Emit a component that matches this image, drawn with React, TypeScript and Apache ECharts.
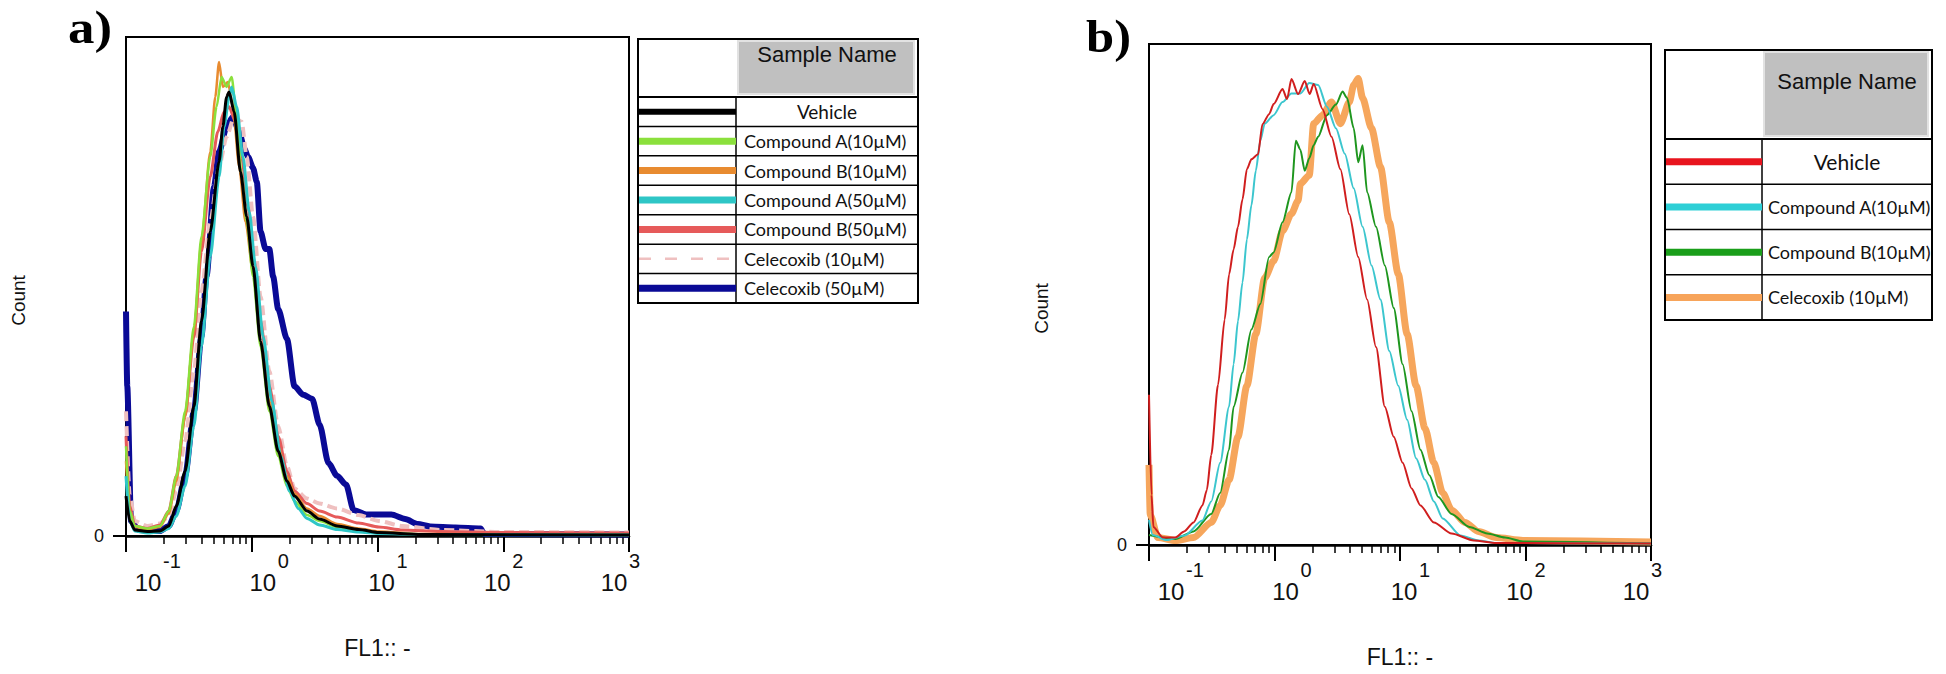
import React, { useEffect, useRef } from "react";
import * as echarts from "echarts";

// x values are log10(FL1) positions, y values are Count as % of the panel's full height.
// ---------- Panel a ----------
const aVehicle = [[-1.0, 8], [-0.97, 3], [-0.93, 1.2], [-0.83, 0.9], [-0.73, 1.0], [-0.66, 2], [-0.6, 6], [-0.53, 13], [-0.46, 26], [-0.4, 43], [-0.33, 61], [-0.26, 75], [-0.23, 82], [-0.2, 88], [-0.18, 89], [-0.14, 85], [-0.09, 73], [-0.04, 64], [0.01, 54], [0.07, 39], [0.14, 26], [0.21, 17], [0.28, 11], [0.34, 8], [0.44, 5], [0.54, 3.4], [0.68, 2], [0.85, 1.3], [1.01, 0.7], [1.35, 0.3], [3.0, 0.2]];
const aCompA10 = [[-1.0, 18], [-0.97, 5], [-0.93, 2], [-0.83, 1.5], [-0.73, 2.0], [-0.66, 5], [-0.6, 12], [-0.53, 25], [-0.46, 42], [-0.4, 60], [-0.33, 76], [-0.28, 86], [-0.24, 92], [-0.2, 90], [-0.16, 92], [-0.12, 84], [-0.08, 72], [-0.04, 63], [0.01, 52], [0.07, 38], [0.14, 25], [0.21, 16], [0.28, 10], [0.34, 7], [0.44, 4.2], [0.54, 3], [0.68, 1.8], [0.85, 1.1], [1.01, 0.6], [1.35, 0.3], [3.0, 0.2]];
const aCompB10 = [[-1.0, 15], [-0.97, 4], [-0.93, 1.8], [-0.83, 1.3], [-0.73, 1.8], [-0.66, 4.5], [-0.6, 11], [-0.53, 24], [-0.46, 41], [-0.4, 59], [-0.33, 77], [-0.29, 88], [-0.26, 95], [-0.23, 90], [-0.19, 91], [-0.15, 86], [-0.1, 74], [-0.05, 63], [0.01, 53], [0.07, 39], [0.14, 27], [0.21, 18], [0.28, 12], [0.34, 8.5], [0.44, 5.5], [0.54, 4], [0.68, 2.4], [0.85, 1.5], [1.01, 0.9], [1.35, 0.4], [3.0, 0.2]];
const aCompA50 = [[-1.0, 12], [-0.97, 3], [-0.93, 1], [-0.83, 0.6], [-0.73, 0.8], [-0.66, 1.5], [-0.6, 4], [-0.53, 10], [-0.46, 22], [-0.4, 38], [-0.33, 56], [-0.26, 72], [-0.22, 82], [-0.18, 88], [-0.16, 90], [-0.12, 86], [-0.07, 76], [-0.02, 65], [0.03, 54], [0.09, 40], [0.16, 27], [0.23, 16], [0.3, 9], [0.37, 5.5], [0.44, 3.5], [0.54, 2.2], [0.68, 1.3], [0.85, 0.8], [1.01, 0.5], [1.35, 0.3], [3.0, 0.2]];
const aCompB50 = [[-1.0, 20], [-0.97, 6], [-0.93, 2], [-0.83, 1.5], [-0.73, 2.2], [-0.66, 5], [-0.6, 12], [-0.53, 24], [-0.46, 40], [-0.4, 57], [-0.33, 72], [-0.27, 81], [-0.22, 85], [-0.18, 86], [-0.13, 83], [-0.08, 76], [-0.03, 66], [0.02, 55], [0.07, 43], [0.14, 30], [0.21, 20], [0.28, 13], [0.34, 9], [0.44, 6.5], [0.54, 5], [0.68, 3.8], [0.85, 2.6], [1.01, 1.8], [1.2, 1.2], [1.5, 0.9], [2.0, 0.7], [3.0, 0.6]];
const aCele10 = [[-1.0, 25], [-0.97, 8], [-0.93, 3], [-0.83, 2], [-0.73, 2.5], [-0.66, 4], [-0.6, 9], [-0.53, 19], [-0.46, 33], [-0.4, 49], [-0.33, 63], [-0.26, 74], [-0.2, 80], [-0.14, 84], [-0.08, 83], [-0.04, 76], [0.01, 64], [0.07, 48], [0.14, 33], [0.21, 22], [0.28, 14], [0.34, 9.5], [0.44, 7.5], [0.54, 6.5], [0.68, 5.5], [0.85, 4.2], [1.01, 3], [1.2, 2], [1.5, 1.2], [2.0, 0.8], [3.0, 0.7]];
const aCele50 = [[-1.0, 45], [-0.99, 30], [-0.96, 3], [-0.9, 1.2], [-0.73, 1.0], [-0.66, 2], [-0.6, 5], [-0.53, 12], [-0.46, 25], [-0.4, 40], [-0.36, 52], [-0.3, 70], [-0.26, 77], [-0.2, 82], [-0.15, 84], [-0.1, 81], [-0.06, 77.7], [-0.03, 76], [0.01, 73.8], [0.04, 71], [0.07, 61], [0.11, 57.5], [0.14, 57.5], [0.17, 52], [0.21, 45.5], [0.28, 39.5], [0.34, 30], [0.41, 28.3], [0.48, 27.5], [0.54, 22.3], [0.61, 14.6], [0.68, 12], [0.75, 10.3], [0.81, 5.2], [0.91, 4.3], [1.01, 4.3], [1.11, 4.3], [1.22, 3.4], [1.32, 2.4], [1.42, 1.9], [1.62, 1.7], [1.82, 1.5], [1.85, 0.4], [3.0, 0.3]];

// ---------- Panel b ----------
const bVehicle = [[-1.0, 30], [-0.98, 10], [-0.965, 3.6], [-0.89, 1.5], [-0.79, 1.5], [-0.72, 2.7], [-0.645, 4.5], [-0.574, 7.9], [-0.539, 11], [-0.504, 18], [-0.45, 32], [-0.397, 45], [-0.362, 54], [-0.326, 59], [-0.291, 63.5], [-0.255, 69], [-0.22, 75], [-0.184, 77], [-0.131, 78], [-0.096, 84], [-0.043, 86], [-0.007, 88], [0.064, 91], [0.1, 89], [0.135, 93], [0.188, 90], [0.241, 92.6], [0.28, 90], [0.312, 92], [0.383, 87], [0.454, 81.5], [0.525, 75], [0.596, 66], [0.667, 57.5], [0.738, 49], [0.809, 39.5], [0.879, 27.6], [0.95, 21.6], [1.021, 16.4], [1.092, 11.3], [1.163, 7.9], [1.27, 4.5], [1.411, 2.3], [1.589, 0.9], [1.766, 0.4], [3.0, 0.3]];
const bCompA10 = [[-1.0, 5], [-0.97, 2], [-0.86, 1.0], [-0.716, 1.9], [-0.574, 4.9], [-0.504, 8.7], [-0.433, 16.4], [-0.362, 27.6], [-0.326, 36.1], [-0.291, 44.7], [-0.255, 52.4], [-0.22, 61.0], [-0.184, 67.8], [-0.149, 74.7], [-0.113, 80.7], [-0.078, 84.1], [-0.007, 85.8], [0.064, 88.4], [0.135, 90.1], [0.206, 90.1], [0.277, 92.2], [0.348, 91.8], [0.418, 87.5], [0.489, 83.2], [0.56, 78.1], [0.631, 71.2], [0.702, 63.5], [0.773, 55.8], [0.844, 49.0], [0.915, 38.7], [0.986, 31.8], [1.057, 25.0], [1.128, 17.3], [1.199, 13.0], [1.27, 8.7], [1.34, 5.3], [1.482, 1.9], [1.624, 0.9], [1.766, 0.4], [3.0, 0.3]];
const bCompB10 = [[-1.0, 2], [-0.79, 1.2], [-0.645, 2.7], [-0.504, 6.2], [-0.433, 10.4], [-0.362, 19.0], [-0.326, 27.6], [-0.255, 34.4], [-0.184, 43.0], [-0.113, 48.1], [-0.043, 57.5], [-0.007, 58.4], [0.064, 64.4], [0.135, 70.4], [0.17, 80.7], [0.206, 78.9], [0.241, 74.7], [0.277, 77.2], [0.312, 79.8], [0.348, 81.5], [0.418, 85.8], [0.489, 87.9], [0.543, 90.5], [0.578, 89.2], [0.631, 83.2], [0.667, 76.4], [0.702, 79.8], [0.738, 70.4], [0.809, 63.5], [0.879, 55.8], [0.95, 47.3], [1.021, 36.1], [1.092, 26.7], [1.163, 19.0], [1.234, 13.9], [1.305, 9.6], [1.411, 6.2], [1.553, 3.6], [1.695, 2.3], [1.837, 1.5], [1.979, 0.7], [3.0, 0.3]];
const bCele10 = [[-1.0, 16], [-0.99, 6], [-0.93, 1.5], [-0.79, 0.9], [-0.645, 1.5], [-0.504, 4.5], [-0.433, 7.9], [-0.362, 13.0], [-0.291, 21.6], [-0.22, 31.8], [-0.149, 42.1], [-0.078, 53.3], [-0.007, 56.7], [0.064, 62.7], [0.135, 66.1], [0.188, 68.7], [0.206, 72.1], [0.277, 73.8], [0.312, 84.1], [0.383, 85.8], [0.454, 88.4], [0.525, 84.1], [0.596, 88.4], [0.631, 91.8], [0.667, 93.1], [0.702, 89.2], [0.773, 83.2], [0.844, 75.5], [0.915, 64.4], [0.986, 54.1], [1.057, 42.1], [1.128, 31.8], [1.199, 23.3], [1.27, 16.4], [1.34, 10.4], [1.411, 7.0], [1.518, 4.5], [1.624, 2.7], [1.766, 1.5], [1.979, 0.9], [3.0, 0.6]];

// Names and axis labels
const aNames = ["Vehicle", "Compound A(10µM)", "Compound B(10µM)", "Compound A(50µM)", "Compound B(50µM)", "Celecoxib (10µM)", "Celecoxib (50µM)"];
const bNames = ["Vehicle", "Compound A(10µM)", "Compound B(10µM)", "Celecoxib (10µM)"];
const decades = [-1, 0, 1, 2, 3];
const exponents = ["-1", "0", "1", "2", "3"];
const headerText = "Sample Name";
const xTitle = "FL1:: -";
const yTitle = "Count";

// styles
const aStyles = [
  { color: "#000000", width: 3, swatch: 6 },
  { color: "#8BE03C", width: 2.5, swatch: 7 },
  { color: "#E88B30", width: 2.5, swatch: 7 },
  { color: "#2EC6C6", width: 3, swatch: 7 },
  { color: "#E65A5A", width: 3, swatch: 7 },
  { color: "#EFC0C0", width: 4, swatch: 2.5, dash: [12, 14] },
  { color: "#0A0A96", width: 6, swatch: 7 },
];
const bStyles = [
  { color: "#D01E1E", width: 2, swatch: 7, legend: "#E8141E" },
  { color: "#3CC6CE", width: 2, swatch: 7, legend: "#2ECFD6" },
  { color: "#1E961E", width: 2, swatch: 7, legend: "#1A9E1A" },
  { color: "#F6A65C", width: 7, swatch: 7, legend: "#F7A45A" },
];

const FONT = "'Liberation Sans', Arial, sans-serif";
const LEG_FONT = "Lato, 'Open Sans', sans-serif";

function buildLegend(
  x0: number, x1: number, y0: number, headerBottom: number, rowH: number, colX: number,
  names: string[], swatches: { color: string; swatch: number; dash?: number[] }[],
  headerFont: number, headerTextY: number, textX: number, vehFont: number, txtFont: number
) {
  const els: any[] = [];
  const bottom = headerBottom + rowH * names.length;
  els.push({ type: "rect", shape: { x: x0, y: y0, width: x1 - x0, height: bottom - y0 }, style: { fill: "#fff", stroke: "#000", lineWidth: 2 }, z: 10 });
  els.push({ type: "rect", shape: { x: colX + 2, y: y0 + 2, width: x1 - colX - 6, height: headerBottom - y0 - 5 }, style: { fill: "#C0C0C0", stroke: "#E2E2E2", lineWidth: 2 }, z: 11 });
  els.push({ type: "text", x: (colX + x1) / 2, y: headerTextY, style: { text: headerText, font: `${headerFont}px ${FONT}`, fill: "#111", align: "center", verticalAlign: "middle" }, z: 12 });
  els.push({ type: "line", shape: { x1: x0, y1: headerBottom, x2: x1, y2: headerBottom }, style: { stroke: "#000", lineWidth: 2 }, z: 12 });
  els.push({ type: "line", shape: { x1: colX, y1: headerBottom, x2: colX, y2: bottom }, style: { stroke: "#000", lineWidth: 1.5 }, z: 12 });
  names.forEach((n, i) => {
    const top = headerBottom + rowH * i;
    const cy = top + rowH / 2;
    if (i > 0) els.push({ type: "line", shape: { x1: x0, y1: top, x2: x1, y2: top }, style: { stroke: "#000", lineWidth: 1.5 }, z: 12 });
    const s = swatches[i];
    els.push({ type: "line", shape: { x1: x0 + 1, y1: cy, x2: colX, y2: cy }, style: { stroke: s.color, lineWidth: s.swatch, lineDash: s.dash }, z: 12 });
    const isVehicle = i === 0;
    els.push({
      type: "text",
      x: isVehicle ? (colX + x1) / 2 : textX,
      y: cy,
      style: { text: n, font: `${isVehicle ? vehFont : txtFont}px ${LEG_FONT}`, fill: "#111", align: isVehicle ? "center" : "left", verticalAlign: "middle" },
      z: 12,
    });
  });
  return els;
}

const minorTicks: number[] = [];
decades.slice(0, -1).forEach((d) => {
  for (let k = 2; k <= 9; k++) minorTicks.push(d + Math.log10(k));
});

const labelOffsets = [22, 11, 4, -6, -15];

export default function App() {
  const ref = useRef<HTMLDivElement>(null);
  useEffect(() => {
    if (!ref.current) return;
    const chart = echarts.init(ref.current, undefined, { renderer: "svg" });
    const grids = [
      { left: 126, top: 37, width: 503, height: 499 },
      { left: 1149, top: 44, width: 502, height: 501 },
    ];
    const xAxes: any[] = [];
    const yAxes: any[] = [];
    grids.forEach((_, gi) => {
      xAxes.push({
        type: "value", gridIndex: gi, min: -1, max: 3, position: "bottom",
        axisLine: { show: true, onZero: false, lineStyle: { color: "#000", width: 2.5 } },
        axisTick: { show: true, customValues: decades, length: 16, lineStyle: { color: "#000", width: 2 } },
        axisLabel: { show: false },
        splitLine: { show: false },
        name: xTitle, nameLocation: "middle", nameGap: 100,
        nameTextStyle: { fontFamily: FONT, fontSize: 23, color: "#111" },
      });
      xAxes.push({
        type: "value", gridIndex: gi, min: -1, max: 3, position: "bottom",
        axisLine: { show: false, onZero: false },
        axisTick: { show: true, customValues: minorTicks, length: 8, lineStyle: { color: "#000", width: 1.5 } },
        axisLabel: { show: false },
        splitLine: { show: false },
      });
      yAxes.push({
        type: "value", gridIndex: gi, min: 0, max: 100,
        axisLine: { show: true, onZero: false, lineStyle: { color: "#000", width: 2 } },
        axisTick: { show: true, customValues: [0], length: 13, lineStyle: { color: "#000", width: 2 } },
        axisLabel: { show: true, customValues: [0], margin: 22, fontFamily: FONT, fontSize: 18, color: "#111", padding: [0, 0, 8, 0] },
        splitLine: { show: false },
      });
    });

    const mk = (name: string, data: number[][], gi: number, st: any) => ({
      type: "line", name, xAxisIndex: gi * 2, yAxisIndex: gi,
      data, showSymbol: false, smooth: 0.25, smoothMonotone: "x",
      lineStyle: { color: st.color, width: st.width, type: st.dash ? [10, 5] : "solid" },
      itemStyle: { color: st.color },
    });

    const series = [
      mk(aNames[6], aCele50, 0, aStyles[6]),
      mk(aNames[5], aCele10, 0, aStyles[5]),
      mk(aNames[4], aCompB50, 0, aStyles[4]),
      mk(aNames[2], aCompB10, 0, aStyles[2]),
      mk(aNames[1], aCompA10, 0, aStyles[1]),
      mk(aNames[3], aCompA50, 0, aStyles[3]),
      mk(aNames[0], aVehicle, 0, aStyles[0]),
      mk(bNames[3], bCele10, 1, bStyles[3]),
      mk(bNames[2], bCompB10, 1, bStyles[2]),
      mk(bNames[1], bCompA10, 1, bStyles[1]),
      mk(bNames[0], bVehicle, 1, bStyles[0]),
    ];

    chart.setOption({
      animation: false,
      backgroundColor: "#fff",
      grid: grids.map((g) => ({ ...g, show: true, borderColor: "#000", borderWidth: 2, containLabel: false })),
      xAxis: xAxes,
      yAxis: yAxes,
      series,
    });

    const els: any[] = [];
    // tick labels (10 with superscript exponent)
    [0, 1].forEach((gi) => {
      const axisY = chart.convertToPixel({ yAxisIndex: gi } as any, 0) as number;
      decades.forEach((d, i) => {
        const x = (chart.convertToPixel({ xAxisIndex: gi * 2 } as any, d) as number) + labelOffsets[i];
        els.push({ type: "text", x, y: axisY + 46, style: { text: "10", font: `24px ${FONT}`, fill: "#111", align: "center", verticalAlign: "middle" } });
        els.push({ type: "text", x: x + 15, y: axisY + 25, style: { text: exponents[i], font: `20px ${FONT}`, fill: "#111", align: "left", verticalAlign: "middle" } });
      });
      const top = grids[gi].top;
      const cy = (top + axisY) / 2 + 14;
      els.push({ type: "text", x: grids[gi].left - 108, y: cy, rotation: Math.PI / 2, style: { text: yTitle, font: `19px ${FONT}`, fill: "#111", align: "center", verticalAlign: "middle" } });
    });
    // panel letters
    els.push({ type: "text", x: 68, y: 28, scaleX: 1.15, style: { text: "a)", font: `bold 46px 'Liberation Serif', 'Times New Roman', serif`, fill: "#000", align: "left", verticalAlign: "middle" } });
    els.push({ type: "text", x: 1086, y: 36, scaleX: 1.1, style: { text: "b)", font: `bold 46px 'Liberation Serif', 'Times New Roman', serif`, fill: "#000", align: "left", verticalAlign: "middle" } });

    els.push(...buildLegend(638, 918, 39, 97, 29.43, 736, aNames, aStyles as any, 22, 54, 744, 19, 18));
    els.push(...buildLegend(1665, 1932, 50, 139, 45.25, 1762, bNames, bStyles.map((s) => ({ ...s, color: s.legend })) as any, 22, 81, 1768, 21, 18));

    chart.setOption({ graphic: els });
    return () => chart.dispose();
  }, []);
  return <div ref={ref} style={{ position: "fixed", left: 0, top: 0, width: 1946, height: 674, background: "#fff" }} />;
}
